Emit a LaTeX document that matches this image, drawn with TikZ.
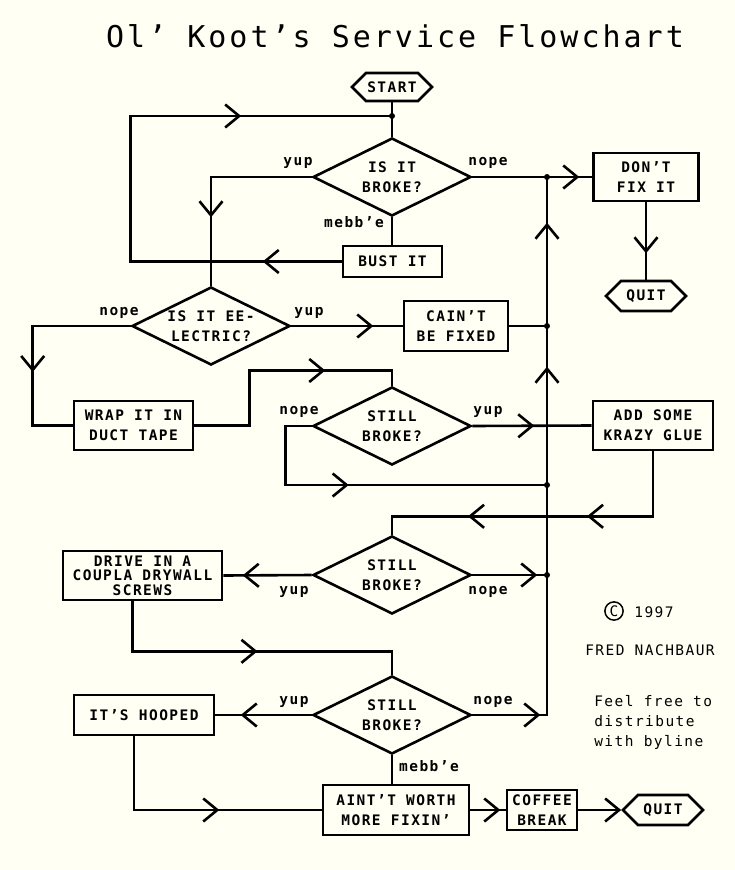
\documentclass[tikz,border=0pt]{standalone}
\usepackage{fontspec}
\usetikzlibrary{shapes.geometric,shapes.symbols,arrows.meta,decorations.markings}
\newfontfamily\kootfont[LetterSpace=10]{DejaVu Sans Mono}
\definecolor{paper}{RGB}{255,255,244}
\tikzset{
	chev/.tip={Straight Barb[length=14pt,width=23pt]},
	arr/.style={postaction={decorate,decoration={markings,mark=at position #1 with {\arrow{chev}}}}},
	lbl/.style={font=\kootfont\bfseries\fontsize{14.5}{20}\selectfont, inner sep=0pt},
	txt/.style={lbl, align=center},
	box/.style 2 args={txt, draw, minimum width=#1, minimum height=#2},
	ask/.style={txt, draw, shape=diamond, aspect=2, minimum width=158, minimum height=78, inner sep=-6pt},
	hexa/.style={txt, draw, shape=signal, signal to=west and east, signal pointer angle=90, minimum width=80, minimum height=#1},
	byline/.style={font=\kootfont\fontsize{14.5}{20}\selectfont, inner sep=0pt},
}

\begin{document}
\begin{tikzpicture}[x=1pt, y=-1pt, line width=2.6pt]
			%%%%% START %%%%%
			
			\fill[paper] (0,0) rectangle (735,870);
			\useasboundingbox (0,0) rectangle (735,870);
			
			\node[font=\kootfont\fontsize{30}{30}\selectfont] (title) at (395,36) {Ol’ Koot’s Service Flowchart};
			
			\node[hexa=28] (start) at (392,87) {START};
			\coordinate (j1) at (392,116);
			\node[ask] (d1) at (392,177) {IS IT\\BROKE?};
			\node[box={99}{31}] (bust) at (392.5,261.5) {BUST IT};
			\node[box={105}{48}] (dont) at (646,177) {DON’T\\FIX IT};
			\node[hexa=30] (quit1) at (646,296) {QUIT};
			
			\node[ask] (d2) at (211,326) {IS IT EE-\\LECTRIC?};
			\node[box={104}{50}] (cain) at (456,326) {CAIN’T\\BE FIXED};
			\node[box={119}{49}] (wrap) at (133.5,425.5) {WRAP IT IN\\DUCT TAPE};
			\node[ask] (d3) at (392,426) {STILL\\BROKE?};
			\node[box={120}{49}] (glue) at (653,425.5) {ADD SOME\\KRAZY GLUE};
			
			\node[ask] (d4) at (392,575) {STILL\\BROKE?};
			\node[box={159}{49}, font=\kootfont\bfseries\fontsize{14.5}{14.5}\selectfont] (drive) at (142.5,575.5) {DRIVE IN A\\COUPLA DRYWALL\\SCREWS};
			
			\node[ask] (d5) at (392,715) {STILL\\BROKE?};
			\node[box={140}{40}] (hooped) at (144,715) {IT’S HOOPED};
			\node[box={146}{50}] (aint) at (396,810) {AINT’T WORTH\\MORE FIXIN’};
			\node[box={70}{40}] (coffee) at (542,810) {COFFEE\\BREAK};
			\node[hexa=30] (quit2) at (663,810) {QUIT};
			
			\coordinate (j2) at (547,177);
			\coordinate (j3) at (547,326);
			\coordinate (j4) at (547,485);
			\coordinate (j5) at (547,575);
			
			% labels on the branches
			\node[lbl] (yup1) at (298,163) {yup};
			\node[lbl] (nope1) at (488,163) {nope};
			\node[lbl] (mebb1) at (354,222) {mebb’e};
			\node[lbl] (nope2) at (119,313) {nope};
			\node[lbl] (yup2) at (309,313) {yup};
			\node[lbl] (nope3) at (299,412) {nope};
			\node[lbl] (yup3) at (488,412) {yup};
			\node[lbl] (yup4) at (294,592) {yup};
			\node[lbl] (nope4) at (488,592) {nope};
			\node[lbl] (yup5) at (294,702) {yup};
			\node[lbl] (nope5) at (493,702) {nope};
			\node[lbl] (mebb5) at (429,766) {mebb’e};
			
			% connectors
			\draw (start) -- (j1) -- (d1);
			\draw[arr=79pt, arr=467pt] (bust.west) -- ++(-211,0) |- (j1);
			\draw[arr=141pt] (d1.west) -| (d2.north);
			\draw (d1.south) -- (d1.south |- bust.north);
			\draw[arr=107pt] (d1.east) -- (dont.west);
			\draw[arr=51pt] (dont.south) -- (quit1.north);
			
			\draw[arr=82pt] (d2.east) -- (cain.west);
			\draw (cain.east) -- (j3);
			\draw[arr=144pt] (d2.west) -- ++(-98,0) |- (wrap.west);
			\draw[arr=186pt] (wrap.east) -- ++(55,0) -- ++(0,-55) -| (d3.north);
			\draw[arr=62pt] (d3.east) -- (glue.west);
			\draw[arr=148pt] (d3.west) -- ++(-26,0) |- (j4);
			
			\draw[arr=131pt, arr=250pt] (glue.south) -- ++(0,65) -| (d4.north);
			\draw[arr=69pt] (d4.west) -- (drive.east);
			\draw[arr=65pt] (d4.east) -- (j5);
			\draw[arr=175pt] ([xshift=-10pt]drive.south) -- ++(0,50) -| (d5.north);
			
			\draw[arr=68pt, arr=423pt, arr=567pt] (d5.east) -| (j2);
			\draw[arr=71pt] (d5.west) -- (hooped.east);
			\draw (d5.south) -- (d5.south |- aint.north);
			\draw[arr=159pt] ([xshift=-10pt]hooped.south) |- (aint.west);
			\draw[arr=30pt] (aint.east) -- (coffee.west);
			\draw[-chev] (coffee.east) -- (quit2.west);
			
			\foreach \j in {j1,j2,j3,j4,j5}
				\fill (\j) circle (3pt);
			
			% byline
			\node[byline, circle, draw, line width=1.5pt, inner sep=1.5pt] (copy) at (614,611) {C};
			\node[byline] (year) at (654,612) {1997};
			\node[byline] (fred) at (650,650) {FRED NACHBAUR};
			\node[byline, align=left, anchor=north west] (note) at (593,694) {Feel free to\\distribute\\with byline};
			
			%%%%% END %%%%%
		\end{tikzpicture}
\end{document}
